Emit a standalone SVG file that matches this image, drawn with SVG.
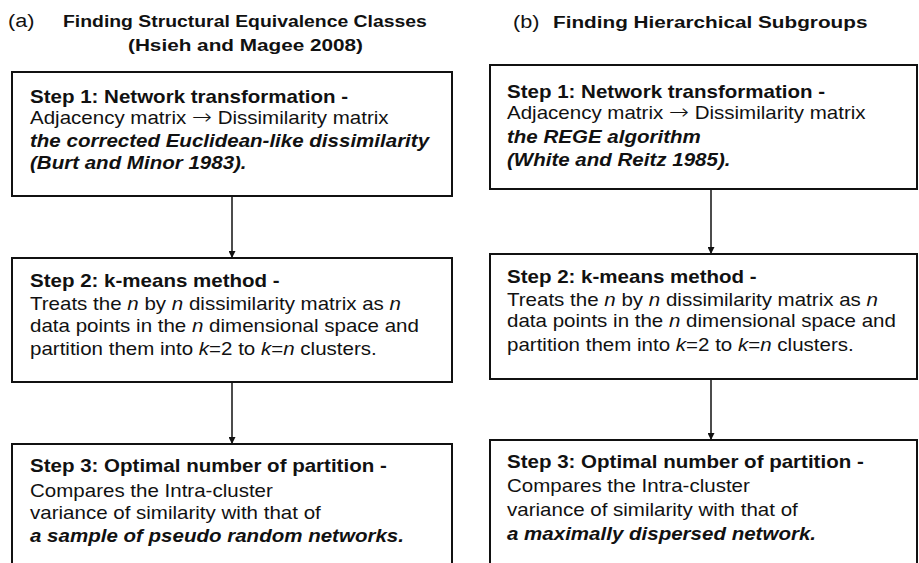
<svg xmlns="http://www.w3.org/2000/svg" width="919" height="563" viewBox="0 0 919 563">
  <style>
    text { font-family: "Liberation Sans", Arial, sans-serif; fill: #111; }
    .ttl { font-size: 17px; font-weight: bold; }
    .lab { font-size: 19px; }
    .body { font-size: 18px; }
    .b { font-weight: bold; }
    .i { font-style: italic; }
    .bi { font-weight: bold; font-style: italic; }
    .arr { font-family: "DejaVu Sans", sans-serif; font-size: 21px; font-weight: 200; }
    .box { fill: #fff; stroke: #111; stroke-width: 2; }
    .conn { stroke: #111; stroke-width: 1.5; fill: none; marker-end: url(#ah); }
  </style>
  <defs>
    <marker id="ah" viewBox="0 0 10 10" refX="10" refY="5" markerWidth="7" markerHeight="7" markerUnits="userSpaceOnUse" orient="auto">
      <path d="M0,0 L10,5 L0,10 z" fill="#111"/>
    </marker>
  </defs>
  <rect width="919" height="563" fill="#fff"/>

  <!-- column headings (type is set slightly wide: scaled horizontally) -->
  <g id="heading-a">
    <g transform="translate(8,0) scale(1.14,1)"><text class="lab" x="0" y="27">(a)</text></g>
    <g transform="translate(63,0) scale(1.14,1)"><text class="ttl" x="0" y="27">Finding Structural Equivalence Classes</text></g>
    <g transform="translate(128,0) scale(1.22,1)"><text class="ttl" x="0" y="51">(Hsieh and Magee 2008)</text></g>
  </g>
  <g id="heading-b">
    <g transform="translate(513,0) scale(1.14,1)"><text class="lab" x="0" y="28">(b)</text></g>
    <g transform="translate(553,0) scale(1.22,1)"><text class="ttl" x="0" y="28">Finding Hierarchical Subgroups</text></g>
  </g>

  <!-- connectors -->
  <g id="connectors">
    <line class="conn" x1="232" y1="196" x2="232" y2="258"/>
    <line class="conn" x1="232" y1="382" x2="232" y2="444"/>
    <line class="conn" x1="711" y1="189" x2="711" y2="254"/>
    <line class="conn" x1="711" y1="379" x2="711" y2="440"/>
  </g>

  <!-- column (a) -->
  <g id="a-step1">
    <rect class="box" x="12" y="72" width="440" height="124"/>
    <g transform="translate(30,0) scale(1.14,1)">
      <text class="body b" x="0" y="103">Step 1: Network transformation -</text>
      <text class="body" x="0" y="124">Adjacency matrix <tspan class="arr">→</tspan> Dissimilarity matrix</text>
      <text class="body bi" x="0" y="147">the corrected Euclidean-like dissimilarity</text>
      <text class="body bi" x="0" y="169">(Burt and Minor 1983).</text>
    </g>
  </g>
  <g id="a-step2">
    <rect class="box" x="12" y="258" width="440" height="124"/>
    <g transform="translate(30,0) scale(1.14,1)">
      <text class="body b" x="0" y="287">Step 2: k-means method -</text>
      <text class="body" x="0" y="310">Treats the <tspan class="i">n</tspan> by <tspan class="i">n</tspan> dissimilarity matrix as <tspan class="i">n</tspan></text>
      <text class="body" x="0" y="332">data points in the <tspan class="i">n</tspan> dimensional space and</text>
      <text class="body" x="0" y="355">partition them into <tspan class="i">k</tspan>=2 to <tspan class="i">k</tspan>=<tspan class="i">n</tspan> clusters.</text>
    </g>
  </g>
  <g id="a-step3">
    <rect class="box" x="12" y="444" width="440" height="130"/>
    <g transform="translate(30,0) scale(1.14,1)">
      <text class="body b" x="0" y="472">Step 3: Optimal number of partition -</text>
      <text class="body" x="0" y="497">Compares the Intra-cluster</text>
      <text class="body" x="0" y="519">variance of similarity with that of</text>
      <text class="body bi" x="0" y="542">a sample of pseudo random networks.</text>
    </g>
  </g>

  <!-- column (b) -->
  <g id="b-step1">
    <rect class="box" x="490" y="65" width="427" height="124"/>
    <g transform="translate(507,0) scale(1.14,1)">
      <text class="body b" x="0" y="98">Step 1: Network transformation -</text>
      <text class="body" x="0" y="119">Adjacency matrix <tspan class="arr">→</tspan> Dissimilarity matrix</text>
      <text class="body bi" x="0" y="143">the REGE algorithm</text>
      <text class="body bi" x="0" y="166">(White and Reitz 1985).</text>
    </g>
  </g>
  <g id="b-step2">
    <rect class="box" x="490" y="254" width="427" height="125"/>
    <g transform="translate(507,0) scale(1.14,1)">
      <text class="body b" x="0" y="283">Step 2: k-means method -</text>
      <text class="body" x="0" y="306">Treats the <tspan class="i">n</tspan> by <tspan class="i">n</tspan> dissimilarity matrix as <tspan class="i">n</tspan></text>
      <text class="body" x="0" y="327">data points in the <tspan class="i">n</tspan> dimensional space and</text>
      <text class="body" x="0" y="351">partition them into <tspan class="i">k</tspan>=2 to <tspan class="i">k</tspan>=<tspan class="i">n</tspan> clusters.</text>
    </g>
  </g>
  <g id="b-step3">
    <rect class="box" x="490" y="440" width="427" height="134"/>
    <g transform="translate(507,0) scale(1.14,1)">
      <text class="body b" x="0" y="468">Step 3: Optimal number of partition -</text>
      <text class="body" x="0" y="492">Compares the Intra-cluster</text>
      <text class="body" x="0" y="516">variance of similarity with that of</text>
      <text class="body bi" x="0" y="540">a maximally dispersed network.</text>
    </g>
  </g>
</svg>
